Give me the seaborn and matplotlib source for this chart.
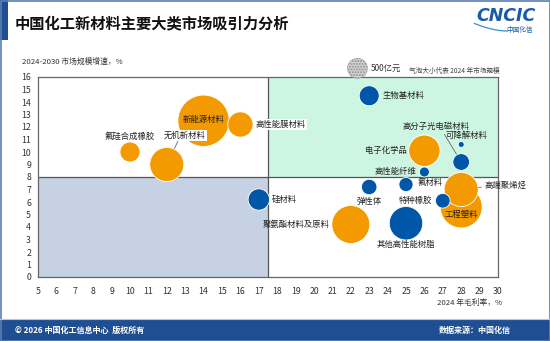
import numpy as np
import pandas as pd
import matplotlib
matplotlib.use("Agg")
import matplotlib.pyplot as plt
from matplotlib.patches import Rectangle
from matplotlib.lines import Line2D
import seaborn as sns

sns.set_theme(style="white")
plt.rcParams['font.family'] = ['Noto Sans CJK SC', 'DejaVu Sans']
plt.rcParams['axes.unicode_minus'] = False

# ---- data ----
names = ["氟硅合成橡胶", "无机新材料", "新能源材料", "高性能膜材料", "硅材料",
         "生物基材料", "电子化学品", "可降解材料", "高分子光电磁材料", "高性能纤维",
         "氟材料", "弹性体", "工程塑料", "高端聚烯烃", "特种橡胶",
         "聚氨酯材料及原料", "其他高性能树脂"]
margin = [10, 12, 14, 16, 17, 23, 26, 28, 28, 26, 25, 23, 28, 28, 27, 22, 25]
growth = [10.0, 9.0, 12.5, 12.2, 6.2, 14.5, 10.1, 10.6, 9.2, 8.4, 7.4, 7.2,
          5.6, 7.0, 6.1, 4.2, 4.3]
market = [500, 1450, 3300, 800, 570, 500, 1230, 45, 350, 125, 250, 300,
          2200, 1450, 270, 1800, 1400]
group = ["orange", "orange", "orange", "orange", "blue", "blue", "orange", "blue",
         "blue", "blue", "blue", "blue", "orange", "orange", "blue", "orange", "blue"]

x_ticks = list(range(5, 31))
y_ticks = list(range(0, 17))
x_split, y_split = 17.5, 8
legend_value = 500

title = "中国化工新材料主要大类市场吸引力分析"
y_label = "2024-2030 市场规模增速，%"
x_label = "2024 年毛利率，%"
size_note = "气泡大小代表 2024 年市场规模"
legend_label = "500亿元"
footer_left = "© 2026 中国化工信息中心  版权所有"
footer_right = "数据来源：中国化信"

df = pd.DataFrame({"name": names, "margin": margin, "growth": growth,
                   "market": market, "group": group})

ORANGE = "#F39A00"
BLUE = "#0057A8"
palette = {"orange": ORANGE, "blue": BLUE}

W, H = 550, 341
fig = plt.figure(figsize=(W / 100, H / 100), dpi=100)
fig.patch.set_facecolor("white")

# ---- page frame ----
frame_blue = "#1f4f92"
fig.add_artist(Rectangle((0, 1 - 40 / H), 8 / W, 40 / H, transform=fig.transFigure,
                         facecolor=frame_blue, edgecolor="none"))
fig.add_artist(Rectangle((0, 0), 1, 21 / H, transform=fig.transFigure,
                         facecolor=frame_blue, edgecolor="none"))
fig.add_artist(Rectangle((0.5 / W, 0.5 / H), 1 - 1 / W, 1 - 1 / H, transform=fig.transFigure,
                         facecolor="none", edgecolor="#5a7fb5", lw=1.2))
fig.add_artist(Line2D([0, 1], [22 / H, 22 / H], transform=fig.transFigure,
                      color="#b9c4d4", lw=0.8))

fig.text(15 / W, 1 - 23 / H, title, fontsize=11, fontweight="bold",
         color="#111111", va="center", ha="left")

# logo
fig.text(506 / W, 1 - 16 / H, "CNCIC", fontsize=12.5, fontweight="heavy",
         fontstyle="italic", color="#1a5aa8", ha="center", va="center",
         family=["DejaVu Sans"])
fig.text(520 / W, 1 - 30 / H, "中国化信", fontsize=4.8, color="#1a5aa8",
         ha="center", va="center")
t = np.linspace(0.15, 1.0, 40)
fig.add_artist(Line2D((468 + 40 * t) / W, 1 - (21 + 10 * np.sin(np.pi * t * 0.5)) / H,
                      transform=fig.transFigure, color="#3a8fd0", lw=0.9))

fig.text(15 / W, 10.5 / H, footer_left, fontsize=5.8, fontweight="bold",
         color="white", ha="left", va="center")
fig.text(511 / W, 10.5 / H, footer_right, fontsize=5.8, fontweight="bold",
         color="white", ha="right", va="center")

# ---- chart ----
ax = fig.add_axes([38 / W, 64 / H, 460 / W, 200 / H])
ax.set_xlim(x_ticks[0], x_ticks[-1])
ax.set_ylim(y_ticks[0], y_ticks[-1])

ax.add_patch(Rectangle((x_ticks[0], y_ticks[0]), x_split - x_ticks[0], y_split - y_ticks[0],
                       facecolor="#c6d1e3", edgecolor="none", zorder=0))
ax.add_patch(Rectangle((x_split, y_split), x_ticks[-1] - x_split, y_ticks[-1] - y_split,
                       facecolor="#cdf6e2", edgecolor="none", zorder=0))
ax.axvline(x_split, color="#555555", lw=0.9, zorder=1)
ax.axhline(y_split, color="#555555", lw=0.9, zorder=1)

# bubble area proportional to market size (10 px radius = 500)
k = (2 * 10 * 0.72) ** 2 / legend_value
sns.scatterplot(data=df, x="margin", y="growth", hue="group", palette=palette,
                size="market", sizes=(0, 5000 * k), size_norm=(0, 5000),
                edgecolor="white", linewidth=0.6, alpha=1, legend=False,
                ax=ax, zorder=3)

# size legend bubble above the plot
ax.scatter([0.6945], [1.0435], s=legend_value * k, transform=ax.transAxes,
           facecolor="#d6d6d6", edgecolor="#8c8c8c", hatch="......", lw=0.3,
           clip_on=False, zorder=4)
ax.text(0.724, 1.0435, legend_label, transform=ax.transAxes, fontsize=6,
        color="#333333", va="center", ha="left")
ax.text(1.003, 1.028, size_note, transform=ax.transAxes, fontsize=4.8,
        color="#444444", va="center", ha="right")

# label placement: offset in pixels, alignment, white background,
# leader line anchor on the label (None = no leader)
label_style = {
    "氟硅合成橡胶": (0, 15.5, "center", False, None),
    "无机新材料": (18, 29, "center", True, (0.35, 0.0)),
    "新能源材料": (0, 1, "center", False, None),
    "高性能膜材料": (15.5, 0, "left", True, None),
    "硅材料": (12.5, 0, "left", False, None),
    "生物基材料": (13.5, 0, "left", False, None),
    "电子化学品": (-18, 0, "right", False, None),
    "可降解材料": (5, 9, "center", False, None),
    "高分子光电磁材料": (-25.5, 35.5, "center", False, (0.6, 0.0)),
    "高性能纤维": (-8.5, 0.5, "right", False, None),
    "氟材料": (11.5, 1.5, "left", False, None),
    "弹性体": (0, -14.5, "center", False, None),
    "工程塑料": (0, -7.5, "center", False, None),
    "高端聚烯烃": (23.5, 4.5, "left", False, (0.0, 0.3)),
    "特种橡胶": (-10.5, 0, "right", False, None),
    "聚氨酯材料及原料": (-21, 0, "right", False, None),
    "其他高性能树脂": (0, -21.5, "center", False, None),
}
for _, row in df.iterrows():
    dx, dy, ha, bg, anchor = label_style[row["name"]]
    bbox = dict(boxstyle="square,pad=0.1", fc="white", ec="none") if bg else None
    arrow = None
    if anchor is not None:
        radius_pt = np.sqrt(row["market"] * k) / 2
        arrow = dict(arrowstyle="-", color="#666666", lw=0.6, relpos=anchor,
                     shrinkA=0, shrinkB=radius_pt + 0.5)
    ax.annotate(row["name"], (row["margin"], row["growth"]), xytext=(dx, dy),
                textcoords="offset pixels", ha=ha, va="center", fontsize=6,
                color="#222222", bbox=bbox, arrowprops=arrow, zorder=5)

ax.set_xticks(x_ticks)
ax.set_yticks(y_ticks)
ax.tick_params(axis="both", direction="out", length=3, width=0.7, color="#555555",
               labelsize=6.3, labelcolor="#333333", pad=2)
ax.tick_params(axis="x", pad=4)
ax.set_xlabel("")
ax.set_ylabel("")
for sp in ax.spines.values():
    sp.set_color("#666666")
    sp.set_linewidth(0.9)

fig.text(22 / W, 1 - 62 / H, y_label, fontsize=5.6, color="#333333",
         ha="left", va="center")
fig.text(502 / W, 1 - 303 / H, x_label, fontsize=5.6, color="#333333",
         ha="right", va="center")

fig.savefig("out.png", dpi=100, facecolor="white")
